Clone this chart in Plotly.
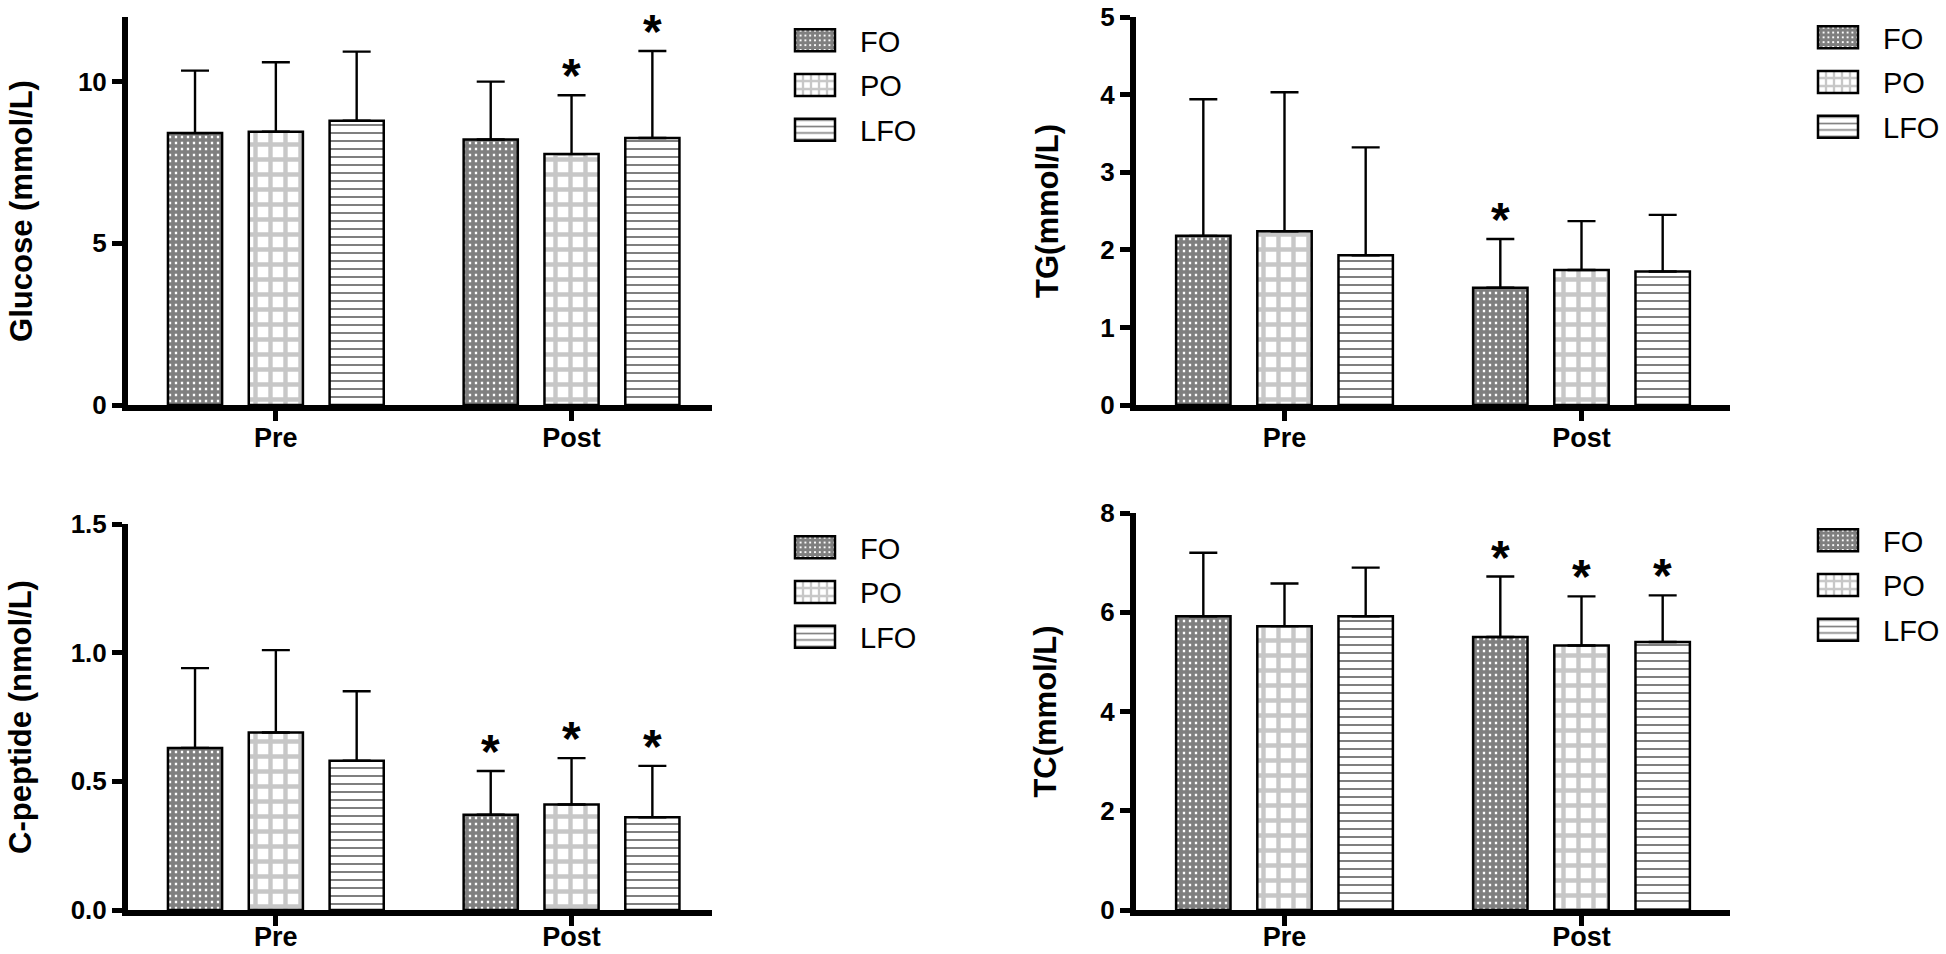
import plotly.graph_objects as go

W, H = 1946, 954

timepoints = ["Pre", "Post"]
groups = ["FO", "PO", "LFO"]

# rows: FO, PO, LFO ; columns: Pre, Post
glucose_mean = [[8.41, 8.21], [8.45, 7.76], [8.79, 8.26]]
glucose_sd = [[1.93, 1.79], [2.15, 1.82], [2.14, 2.69]]
glucose_sig = [[0, 0], [0, 1], [0, 1]]

tg_mean = [[2.18, 1.51], [2.24, 1.74], [1.93, 1.72]]
tg_sd = [[1.76, 0.63], [1.79, 0.63], [1.39, 0.73]]
tg_sig = [[0, 1], [0, 0], [0, 0]]

cpep_mean = [[0.63, 0.37], [0.69, 0.41], [0.58, 0.36]]
cpep_sd = [[0.31, 0.17], [0.32, 0.18], [0.27, 0.20]]
cpep_sig = [[0, 1], [0, 1], [0, 1]]

tc_mean = [[5.92, 5.50], [5.72, 5.33], [5.92, 5.40]]
tc_sd = [[1.28, 1.22], [0.86, 0.99], [0.98, 0.94]]
tc_sig = [[0, 1], [0, 1], [0, 1]]

y_titles = ["Glucose (mmol/L)", "TG(mmol/L)", "C-peptide (nmol/L)", "TC(mmol/L)"]
y_ranges = [[0, 12], [0, 5], [0, 1.5], [0, 8]]
y_dticks = [5, 1, 0.5, 2]
y_formats = ["d", "d", ".1f", "d"]
x_ranges = [[-0.5, 1.475], [-0.5, 1.5], [-0.5, 1.475], [-0.5, 1.5]]

patterns = [
    dict(shape="+", fgcolor="black", bgcolor="white", size=6, solidity=0.85),
    dict(shape="+", fgcolor="#8f8f8f", bgcolor="white", size=15, solidity=0.5),
    dict(shape="-", fgcolor="black", bgcolor="white", size=8, solidity=0.25),
]

# pixel boxes of the plot areas: (left, right, top, bottom)
boxes = [
    (128, 712, 17, 405),
    (1136, 1730, 17, 405),
    (128, 712, 524, 910),
    (1136, 1730, 513, 910),
]
title_standoff = [38, 34, 32, 36]
xlabel_shift = [-6, -6, -12, -12]
legend_pos = [(770, 15), (1793, 12), (770, 522), (1793, 515)]

BARGAP = 0.18
BARGROUPGAP = 0.33
FONT = "Liberation Sans, Arial, Helvetica, sans-serif"

fig = go.Figure()
panels = [
    (glucose_mean, glucose_sd, glucose_sig),
    (tg_mean, tg_sd, tg_sig),
    (cpep_mean, cpep_sd, cpep_sig),
    (tc_mean, tc_sd, tc_sig),
]
xpos = list(range(len(timepoints)))
annotations = []
slot = (1 - BARGAP) / 3

for p, (means, sds, sigs) in enumerate(panels):
    ax = "" if p == 0 else str(p + 1)
    leg = "legend" if p == 0 else f"legend{p + 1}"
    for k, g in enumerate(groups):
        fig.add_trace(go.Bar(
            x=xpos, y=means[k], name=g,
            xaxis="x" + ax, yaxis="y" + ax,
            legend=leg, legendgroup=f"{p}-{g}",
            marker=dict(color="white", pattern=patterns[k],
                        line=dict(color="black", width=2.5)),
            error_y=dict(type="data", array=sds[k], arrayminus=[0] * len(xpos),
                         symmetric=False, color="black", thickness=2.4, width=14),
        ))
        for t in xpos:
            if sigs[k][t]:
                annotations.append(dict(
                    x=t + (k - 1) * slot, y=means[k][t] + sds[k][t],
                    xref="x" + ax, yref="y" + ax, text="*", showarrow=False,
                    yanchor="bottom", yshift=-9,
                    font=dict(family=FONT, size=48, color="black", weight="bold"),
                ))

layout = dict(
    width=W, height=H, margin=dict(l=0, r=0, t=0, b=0, autoexpand=False),
    paper_bgcolor="white", plot_bgcolor="white",
    barmode="group", bargap=BARGAP, bargroupgap=BARGROUPGAP,
    annotations=annotations, showlegend=True,
)

for p in range(4):
    ax = "" if p == 0 else str(p + 1)
    l, r, t, b = boxes[p]
    common = dict(showline=True, linewidth=6, linecolor="black",
                  ticks="outside", ticklen=10, tickwidth=5, tickcolor="black",
                  showgrid=False, zeroline=False, fixedrange=True, automargin=False,
                  ticklabeloverflow="allow")
    layout["xaxis" + ax] = dict(
        common, domain=[l / W, r / W], anchor="y" + ax,
        range=x_ranges[p], tickvals=xpos, ticktext=timepoints,
        ticklabelstandoff=xlabel_shift[p],
        tickfont=dict(family=FONT, size=27, color="black", weight="bold"),
    )
    layout["yaxis" + ax] = dict(
        common, domain=[1 - b / H, 1 - t / H], anchor="x" + ax,
        range=y_ranges[p], dtick=y_dticks[p], tick0=0, tickformat=y_formats[p],
        tickfont=dict(family=FONT, size=26, color="black", weight="bold"),
        title=dict(text=y_titles[p], standoff=title_standoff[p],
                   font=dict(family=FONT, size=31, color="black", weight="bold")),
    )
    lx, ly = legend_pos[p]
    layout["legend" if p == 0 else f"legend{p + 1}"] = dict(
        x=lx / W, y=1 - ly / H, xanchor="left", yanchor="top",
        bgcolor="rgba(0,0,0,0)", itemwidth=80, tracegroupgap=4,
        traceorder="grouped",
        font=dict(family=FONT, size=29, color="black"),
    )

fig.update_layout(**layout)

post = """
document.body.style.margin = '0';
var gd = document.getElementById('{plot_id}');
function bigSwatches() {
  gd.querySelectorAll('g.legendpoints path').forEach(function (p) {
    p.setAttribute('d', 'M20,11H-20V-11H20Z');
  });
}
bigSwatches();
var nTry = 0;
var timer = setInterval(function () { bigSwatches(); nTry += 1; if (nTry > 40) { clearInterval(timer); } }, 50);
if (gd.on) { gd.on('plotly_afterplot', bigSwatches); }
"""
fig.write_html("out.html", post_script=post, config={"displayModeBar": False})
